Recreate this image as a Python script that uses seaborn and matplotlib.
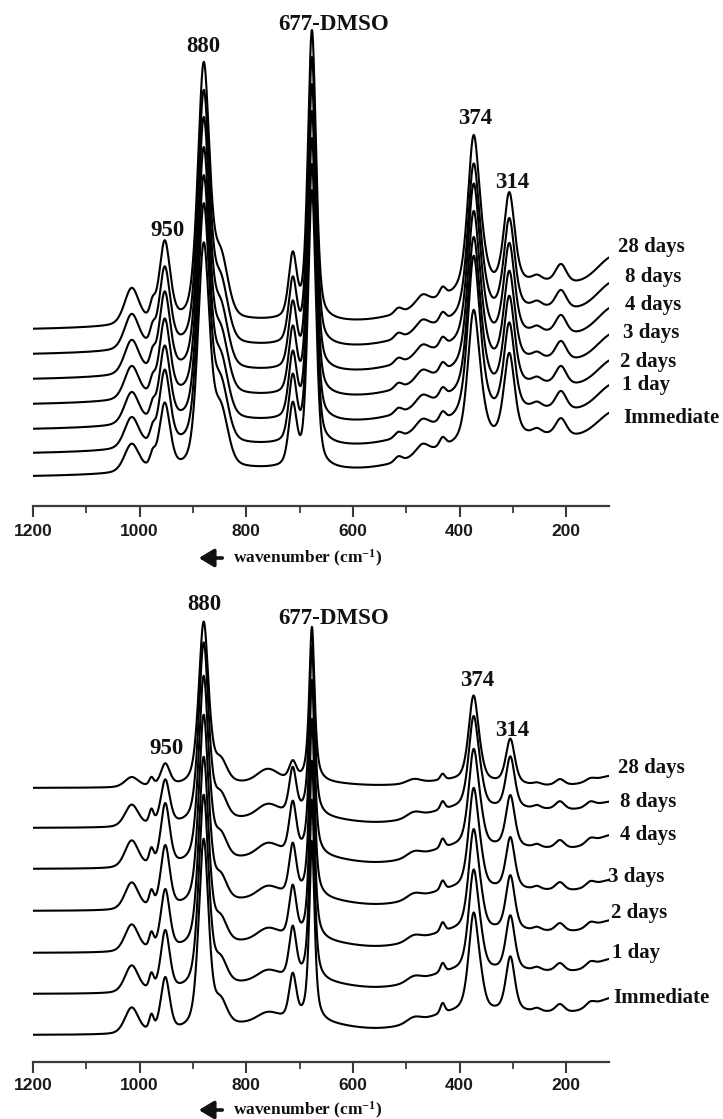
import numpy as np
import pandas as pd
import matplotlib
matplotlib.use("Agg")
import matplotlib.pyplot as plt
from matplotlib.patches import FancyArrowPatch
from matplotlib.ticker import MultipleLocator
import seaborn as sns

# ---------------------------------------------------------------------------
# Raman spectra of the complex in DMSO recorded over 28 days (two samples).
# Each trace is built from its bands: centre (cm-1), half width, Lorentzian
# fraction and one height per series; traces are stacked with an offset.
# ---------------------------------------------------------------------------
SERIES = ["28 days", "8 days", "4 days", "3 days", "2 days", "1 day", "Immediate"]
WN = np.linspace(1200, 120, 2161)

# ---- upper sample ----
TOP_OFFSETS = [176, 151, 126, 101, 76, 52, 29]
TOP_CENTERS = [1015, 976, 953, 880, 848, 750, 713, 677, 515, 470, 432, 430, 374, 357, 307, 255, 210, 230, 100]
TOP_WIDTHS = [16, 6, 12, 13, 16, 250, 9, 9, 8, 14, 7, 90, 13, 12, 12, 10, 12, 140, 45]
TOP_ETA = [0.3, 0.3, 0.4, 0.4, 0.3, 0.0, 0.4, 0.45, 0.0, 0.3, 0.3, 0.0, 0.5, 0.3, 0.5, 0.3, 0.3, 0.0, 0.0]
TOP_HEIGHTS = [
    [36, 35, 34, 33, 32, 31, 28],          # 1015
    [14, 14, 14, 13, 13, 13, 12],          # 976
    [80, 79, 79, 77, 75, 75, 66],          # 953
    [254, 251, 249, 244, 241, 237, 222],   # 880
    [58, 58, 57, 57, 56, 56, 54],          # 848 shoulder
    [8, 8, 8, 8, 8, 8, 7],                 # broad background
    [62, 62, 63, 63, 63, 64, 60],          # 713
    [290, 288, 286, 284, 282, 280, 278],   # 677 DMSO
    [5, 5, 5, 5, 5, 5, 5],                 # 515
    [10, 10, 10, 10, 10, 10, 10],          # 470
    [9, 9, 9, 9, 9, 9, 9],                 # 432
    [16, 16, 16, 16, 16, 16, 15],          # broad background
    [153, 150, 155, 153, 152, 158, 130],   # 374
    [15, 15, 15, 15, 15, 14, 12],          # 357 shoulder
    [92, 92, 92, 90, 90, 88, 84],          # 307
    [5, 5, 5, 5, 5, 5, 5],                 # 255
    [18, 18, 18, 18, 18, 18, 17],          # 210
    [46, 45, 45, 44, 44, 43, 40],          # broad background
    [48, 48, 48, 47, 46, 46, 43],          # low-frequency wing
]

# ---- lower sample ----
BOT_OFFSETS = [274, 234, 193, 151, 109, 68, 27]
BOT_CENTERS = [1015, 978, 952, 880, 848, 760, 720, 713, 677, 486, 432, 420, 374, 360, 305, 255, 212, 155, 240, 100]
BOT_WIDTHS = [15, 5, 10, 11, 14, 22, 120, 8, 6, 15, 5, 80, 11, 9, 10, 8, 10, 10, 140, 50]
BOT_ETA = [0.3, 0.3, 0.4, 0.5, 0.3, 0.0, 0.0, 0.4, 0.7, 0.0, 0.3, 0.0, 0.5, 0.3, 0.5, 0.3, 0.3, 0.3, 0.0, 0.0]
BOT_HEIGHTS = [
    [10, 22, 27, 27, 27, 27, 26],          # 1015
    [8, 14, 15, 15, 15, 15, 15],           # 978
    [22, 45, 62, 62, 60, 60, 54],          # 952
    [163, 180, 187, 190, 190, 193, 190],   # 880
    [20, 22, 22, 22, 22, 22, 22],          # 848 shoulder
    [12, 11, 11, 10, 10, 9, 8],            # 760
    [6, 12, 14, 14, 14, 14, 14],           # broad background
    [18, 45, 50, 50, 50, 50, 44],          # 713
    [155, 170, 175, 178, 178, 180, 180],   # 677 DMSO
    [4, 5, 5, 5, 5, 5, 5],                 # 486
    [6, 8, 9, 9, 9, 9, 10],                # 432
    [6, 12, 14, 14, 14, 14, 14],           # broad background
    [85, 90, 95, 98, 98, 98, 96],          # 374
    [5, 10, 12, 12, 13, 13, 13],           # 360 shoulder
    [45, 52, 52, 52, 55, 55, 55],          # 305
    [2, 3, 3, 3, 3, 3, 3],                 # 255
    [6, 8, 8, 8, 8, 8, 8],                 # 212
    [3, 5, 5, 5, 5, 5, 5],                 # 155
    [2, 18, 20, 20, 21, 22, 22],           # broad background
    [12, 17, 24, 21, 22, 24, 26],          # low-frequency wing
]

PEAK_LABELS = ["950", "880", "677-DMSO", "374", "314"]


def band(wn, centre, width, eta):
    z = (wn - centre) / width
    return eta / (1.0 + z ** 2) + (1.0 - eta) * np.exp(-np.log(2.0) * z ** 2)


def build_frame(offsets, centres, widths, etas, heights):
    frames = []
    for j, name in enumerate(SERIES):
        y = np.full(WN.shape, float(offsets[j]))
        for c, w, e, h in zip(centres, widths, etas, heights):
            y = y + h[j] * band(WN, c, w, e)
        frames.append(pd.DataFrame({"wavenumber": WN, "intensity": y, "series": name}))
    return pd.concat(frames, ignore_index=True)


sns.set_theme(style="white")
plt.rcParams["font.family"] = ["Liberation Serif", "DejaVu Serif"]
plt.rcParams["mathtext.fontset"] = "custom"
plt.rcParams["mathtext.rm"] = "Liberation Serif:bold"
plt.rcParams["mathtext.it"] = "Liberation Serif:bold"
plt.rcParams["mathtext.bf"] = "Liberation Serif:bold"

W, H = 723, 1119
fig = plt.figure(figsize=(W / 100, H / 100), dpi=100)
fig.patch.set_facecolor("white")

X_LEFT, X_RIGHT = 33, 609

panels = [
    dict(axis_px=506, top_px=10, df=build_frame(TOP_OFFSETS, TOP_CENTERS, TOP_WIDTHS, TOP_ETA, TOP_HEIGHTS),
         peak_xy=[(948, 276), (880, 460), (637, 481), (370, 388), (301, 324)],
         labels_px=[(618, 247), (625, 277), (625, 305), (623, 333), (620, 362), (622, 385), (623, 418)],
         arrow_y=558, pad=5.0),
    dict(axis_px=1062, top_px=578, df=build_frame(BOT_OFFSETS, BOT_CENTERS, BOT_WIDTHS, BOT_ETA, BOT_HEIGHTS),
         peak_xy=[(950, 313), (878, 457), (637, 444), (367, 381), (301, 332)],
         labels_px=[(618, 768), (620, 802), (620, 835), (608, 877), (611, 913), (612, 953), (613, 998)],
         arrow_y=1110, pad=3.5),
]

for p in panels:
    h_px = p["axis_px"] - p["top_px"]
    ax = fig.add_axes([X_LEFT / W, 1 - p["axis_px"] / H, (X_RIGHT - X_LEFT) / W, h_px / H])
    ax.patch.set_alpha(0)
    sns.lineplot(data=p["df"], x="wavenumber", y="intensity", hue="series",
                 palette=["black"] * len(SERIES), legend=False, sort=False,
                 estimator=None, linewidth=1.5, ax=ax)
    ax.set_xlim(1200, 120)
    ax.set_ylim(0, h_px)
    ax.set_xlabel("")
    ax.set_ylabel("")
    ax.set_yticks([])
    for side in ("left", "top", "right"):
        ax.spines[side].set_visible(False)
    ax.spines["bottom"].set_color("#3a3a3a")
    ax.spines["bottom"].set_linewidth(1.6)
    ax.xaxis.set_major_locator(MultipleLocator(200))
    ax.xaxis.set_minor_locator(MultipleLocator(100))
    ax.tick_params(axis="x", which="major", bottom=True, direction="out", length=8,
                   width=1.5, color="#3a3a3a", pad=p["pad"])
    ax.tick_params(axis="x", which="minor", bottom=True, direction="out", length=5,
                   width=1.3, color="#3a3a3a")
    for t in ax.get_xticklabels():
        t.set_fontfamily(["Liberation Sans", "DejaVu Sans"])
        t.set_fontweight("bold")
        t.set_fontsize(12.5)
        t.set_color("#1a1a1a")

    for txt, (xv, yv) in zip(PEAK_LABELS, p["peak_xy"]):
        ax.text(xv, yv, txt, ha="center", va="center", fontsize=16.5,
                fontweight="bold", color="#111111")

    for name, (xp, yp) in zip(SERIES, p["labels_px"]):
        fig.text(xp / W, 1 - yp / H, name, ha="left", va="center", fontsize=15,
                 fontweight="bold", color="#111111")

    ya = H - p["arrow_y"]
    fig.add_artist(FancyArrowPatch(
        (225 / W, ya / H), (196 / W, ya / H), transform=fig.transFigure,
        arrowstyle="-|>,head_length=0.75,head_width=0.45", mutation_scale=12,
        linewidth=2.6, color="#111111"))
    fig.text(233 / W, ya / H, r"wavenumber (cm$^{-1}$)", ha="left", va="center",
             fontsize=12.5, fontweight="bold", color="#111111")

fig.savefig("out.png", dpi=100, facecolor="white")
